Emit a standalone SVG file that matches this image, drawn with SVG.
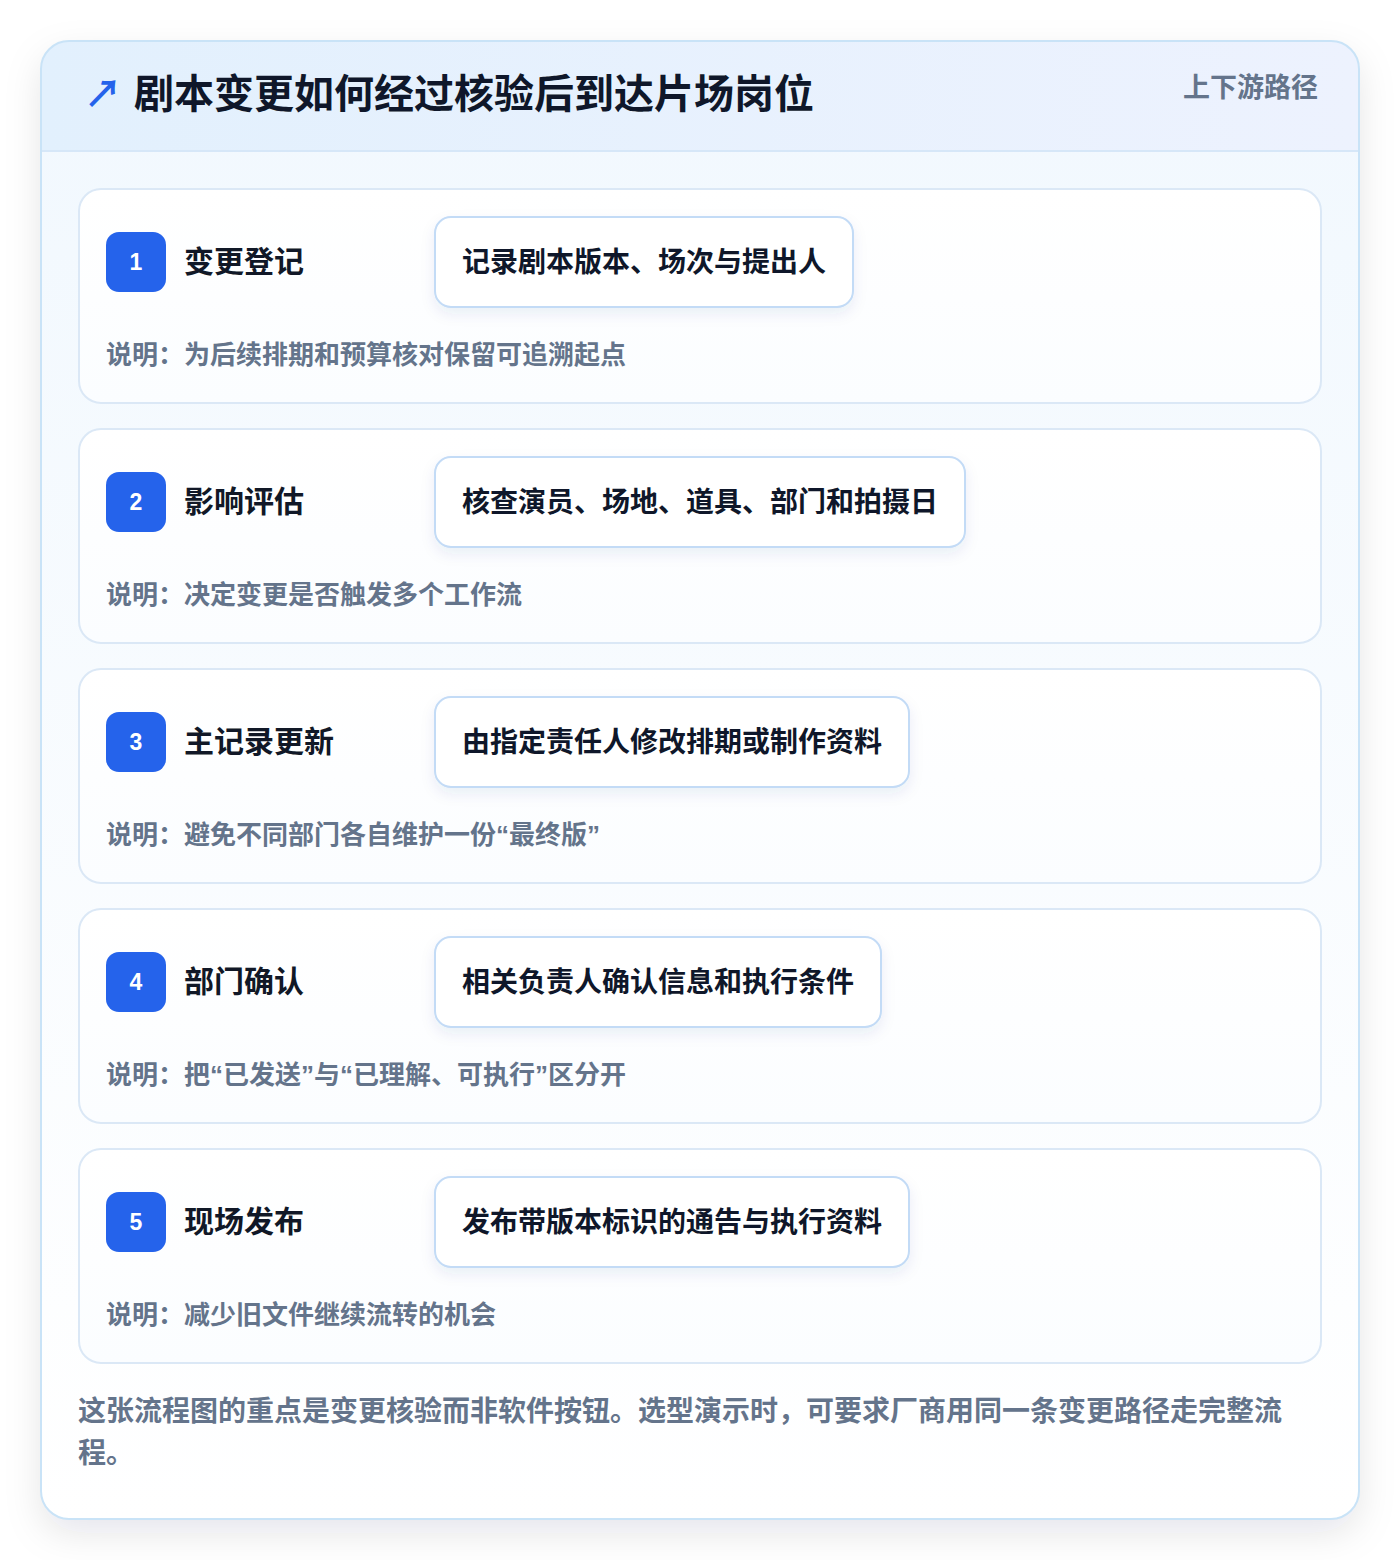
<svg xmlns="http://www.w3.org/2000/svg" width="1400" height="1560" viewBox="0 0 1400 1560">
<defs>
<linearGradient id="cardBg" x1="0" y1="0" x2="0" y2="1">
<stop offset="0" stop-color="#f1f8fe"/>
<stop offset="1" stop-color="#ffffff"/>
</linearGradient>
<linearGradient id="headBg" x1="0" y1="0" x2="1" y2="0">
<stop offset="0" stop-color="#e2f0fd"/>
<stop offset="1" stop-color="#edf2fe"/>
</linearGradient>
<linearGradient id="stepBg" x1="0" y1="0" x2="0" y2="1">
<stop offset="0" stop-color="#ffffff"/>
<stop offset="1" stop-color="#fbfdff"/>
</linearGradient>
<filter id="outerShadow" x="-10%" y="-10%" width="120%" height="120%">
<feDropShadow dx="0" dy="14" stdDeviation="18" flood-color="#0f172a" flood-opacity="0.10"/>
</filter>
<filter id="pillShadow" x="-10%" y="-20%" width="120%" height="160%">
<feDropShadow dx="0" dy="6" stdDeviation="7" flood-color="#1e3a8a" flood-opacity="0.08"/>
</filter>
<clipPath id="cardClip"><rect x="41" y="41" width="1318" height="1478" rx="28"/></clipPath>
</defs>
<style>
.cjk{font-family:"Noto Sans CJK SC","Noto Sans",sans-serif}
.q{font-family:"Liberation Sans",Arial,sans-serif}
.title{font-size:40px;font-weight:700;fill:#0f172a}
.tag{font-size:27px;font-weight:600;fill:#64748b}
.step{fill:url(#stepBg);stroke:#dbe8f6;stroke-width:2}
.badge{fill:#2563eb}
.num{font-family:"Liberation Sans",Arial,sans-serif;font-size:23px;font-weight:700;fill:#ffffff}
.stitle{font-size:30px;font-weight:700;fill:#111827}
.pill{fill:#ffffff;stroke:#c3dbf6;stroke-width:2}
.ptext{font-size:28px;font-weight:700;fill:#0f172a}
.desc{font-size:26px;font-weight:600;fill:#64748b}
.foot{font-size:28px;font-weight:600;fill:#64748b}
</style>
<rect width="1400" height="1560" fill="#ffffff"/>
<g id="card">
<rect x="41" y="41" width="1318" height="1478" rx="28" fill="url(#cardBg)" filter="url(#outerShadow)"/>
<g clip-path="url(#cardClip)">
<rect x="41" y="41" width="1318" height="110" fill="url(#headBg)"/>
<line x1="41" y1="151" x2="1359" y2="151" stroke="#d6e7f8" stroke-width="2"/>
</g>
<rect x="41" y="41" width="1318" height="1478" rx="28" fill="none" stroke="#c9e3f7" stroke-width="2"/>
</g>
<g id="header">
<text x="84" y="107" class="cjk" font-size="38" font-weight="700" fill="#2563eb">↗</text>
<text x="134" y="108" class="cjk title">剧本变更如何经过核验后到达片场岗位</text>
<text x="1318" y="97" class="cjk tag" text-anchor="end">上下游路径</text>
</g>
<g id="step1">
<rect class="step" x="79" y="189" width="1242" height="214" rx="22"/>
<rect class="badge" x="106" y="232" width="60" height="60" rx="13"/>
<text class="num" x="136" y="270" text-anchor="middle">1</text>
<text class="cjk stitle" x="184" y="272">变更登记</text>
<rect class="pill" x="435" y="217" width="418" height="90" rx="16" filter="url(#pillShadow)"/>
<text class="cjk ptext" x="462" y="272">记录剧本版本、场次与提出人</text>
<text class="cjk desc" x="106" y="364">说明：为后续排期和预算核对保留可追溯起点</text>
</g>
<g id="step2">
<rect class="step" x="79" y="429" width="1242" height="214" rx="22"/>
<rect class="badge" x="106" y="472" width="60" height="60" rx="13"/>
<text class="num" x="136" y="510" text-anchor="middle">2</text>
<text class="cjk stitle" x="184" y="512">影响评估</text>
<rect class="pill" x="435" y="457" width="530" height="90" rx="16" filter="url(#pillShadow)"/>
<text class="cjk ptext" x="462" y="512">核查演员、场地、道具、部门和拍摄日</text>
<text class="cjk desc" x="106" y="604">说明：决定变更是否触发多个工作流</text>
</g>
<g id="step3">
<rect class="step" x="79" y="669" width="1242" height="214" rx="22"/>
<rect class="badge" x="106" y="712" width="60" height="60" rx="13"/>
<text class="num" x="136" y="750" text-anchor="middle">3</text>
<text class="cjk stitle" x="184" y="752">主记录更新</text>
<rect class="pill" x="435" y="697" width="474" height="90" rx="16" filter="url(#pillShadow)"/>
<text class="cjk ptext" x="462" y="752">由指定责任人修改排期或制作资料</text>
<text class="cjk desc" x="106" y="844">说明：避免不同部门各自维护一份<tspan class="q">“</tspan>最终版<tspan class="q">”</tspan></text>
</g>
<g id="step4">
<rect class="step" x="79" y="909" width="1242" height="214" rx="22"/>
<rect class="badge" x="106" y="952" width="60" height="60" rx="13"/>
<text class="num" x="136" y="990" text-anchor="middle">4</text>
<text class="cjk stitle" x="184" y="992">部门确认</text>
<rect class="pill" x="435" y="937" width="446" height="90" rx="16" filter="url(#pillShadow)"/>
<text class="cjk ptext" x="462" y="992">相关负责人确认信息和执行条件</text>
<text class="cjk desc" x="106" y="1084">说明：把<tspan class="q">“</tspan>已发送<tspan class="q">”</tspan>与<tspan class="q">“</tspan>已理解、可执行<tspan class="q">”</tspan>区分开</text>
</g>
<g id="step5">
<rect class="step" x="79" y="1149" width="1242" height="214" rx="22"/>
<rect class="badge" x="106" y="1192" width="60" height="60" rx="13"/>
<text class="num" x="136" y="1230" text-anchor="middle">5</text>
<text class="cjk stitle" x="184" y="1232">现场发布</text>
<rect class="pill" x="435" y="1177" width="474" height="90" rx="16" filter="url(#pillShadow)"/>
<text class="cjk ptext" x="462" y="1232">发布带版本标识的通告与执行资料</text>
<text class="cjk desc" x="106" y="1324">说明：减少旧文件继续流转的机会</text>
</g>
<g id="connectors"></g>
<g id="footer">
<text class="cjk foot" x="78" y="1421">这张流程图的重点是变更核验而非软件按钮。选型演示时，可要求厂商用同一条变更路径走完整流</text>
<text class="cjk foot" x="78" y="1463">程。</text>
</g>
</svg>
